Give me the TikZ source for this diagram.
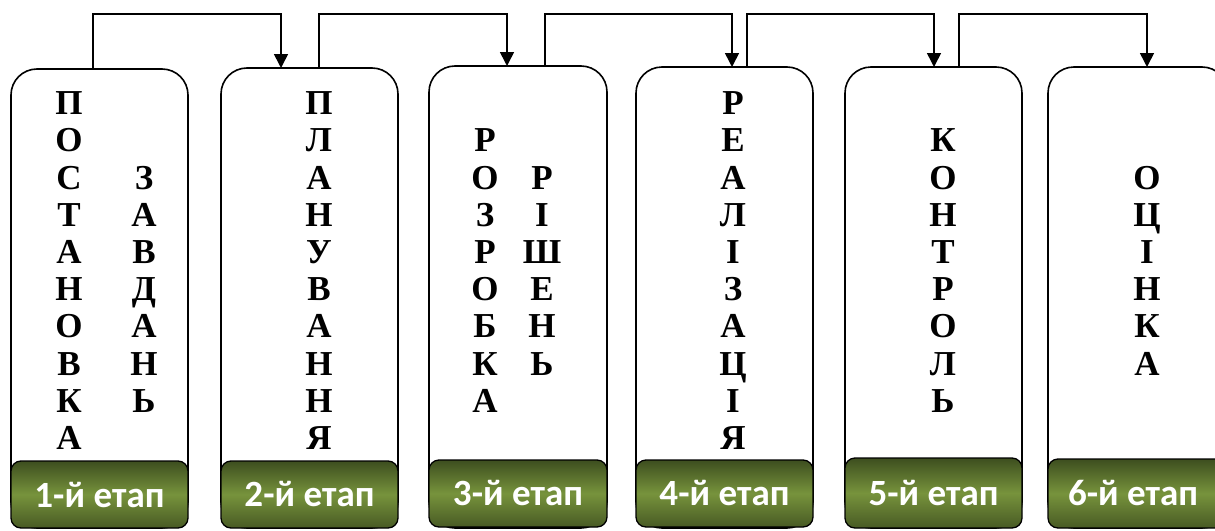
\documentclass[tikz,border=0pt]{standalone}
\usepackage{fontspec}
\newfontfamily\letterfont{Liberation Serif}[BoldFont={Liberation Serif Bold}]
\newfontfamily\tabfont{Carlito}
\usetikzlibrary{arrows.meta,calc}
\definecolor{olivedark}{HTML}{3D4E1F}
\definecolor{olivemid}{HTML}{77933C}
\definecolor{olivelow}{HTML}{485A24}
% one letter per row, rows 37.2pt apart
\newcommand{\column}[1]{{\letterfont\bfseries\fontsize{35}{37.2}\selectfont
  \begin{tabular}{@{}c@{}}#1\end{tabular}}}

\begin{document}
\begin{tikzpicture}[x=1pt,y=-1pt,
  stage/.style={draw, line width=1.6pt, rounded corners=26pt, minimum width=177pt,
    inner sep=0pt, outer sep=0pt, anchor=north west},
  tab/.style={draw, line width=1.3pt, rounded corners=10pt,
    top color=olivedark, bottom color=olivelow, middle color=olivemid,
    minimum width=177pt, minimum height=67pt, inner sep=0pt, outer sep=0pt,
    anchor=north west, text=white, font=\tabfont\bfseries\fontsize{37}{40}\selectfont},
  word/.style={inner sep=0pt},
  arrowlink/.style={line width=1.6pt, -{Triangle[length=14pt,width=14pt]}}]

\useasboundingbox (0,0) rectangle (1215,530);
\clip (0,0) rectangle (1215,530);

% stage frames
\node[stage, minimum height=459pt] (s1) at (11,69) {};
\node[stage, minimum height=460pt] (s2) at (221,68) {};
\node[stage, minimum height=462pt, minimum width=178pt] (s3) at (429,66) {};
\node[stage, minimum height=461pt] (s4) at (636,67) {};
\node[stage, minimum height=461pt] (s5) at (845,67) {};
\node[stage, minimum height=461pt, minimum width=180pt] (s6) at (1048,67) {};

% vertical words
\node[word] (w1a) at (69,274.6)  {\column{П\\О\\С\\Т\\А\\Н\\О\\В\\К\\А}};
\node[word] (w1b) at (144,293.2) {\column{З\\А\\В\\Д\\А\\Н\\Ь}};
\node[word] (w2)  at (319,274.6) {\column{П\\Л\\А\\Н\\У\\В\\А\\Н\\Н\\Я}};
\node[word] (w3a) at (485,274.6) {\column{Р\\О\\З\\Р\\О\\Б\\К\\А}};
\node[word] (w3b) at (542,274.6) {\column{Р\\І\\Ш\\Е\\Н\\Ь}};
\node[word] (w4)  at (733,274.6) {\column{Р\\Е\\А\\Л\\І\\З\\А\\Ц\\І\\Я}};
\node[word] (w5)  at (943,274.6) {\column{К\\О\\Н\\Т\\Р\\О\\Л\\Ь}};
\node[word] (w6)  at (1147,274.6) {\column{О\\Ц\\І\\Н\\К\\А}};

% stage labels
\node[tab] (t1) at (11,461)  {\raisebox{-2pt}{1-й етап}};
\node[tab] (t2) at (221,461) {\raisebox{-3pt}{2-й етап}};
\node[tab, minimum width=178pt] (t3) at (429,460) {\raisebox{-1pt}{3-й етап}};
\node[tab] (t4) at (636,460) {\raisebox{-2pt}{4-й етап}};
\node[tab, minimum height=70pt] (t5) at (845,458) {5-й етап};
\node[tab, minimum height=69pt, minimum width=180pt] (t6) at (1048,459) {\hspace*{-10pt}\raisebox{-2pt}{6-й етап}};

% transitions between stages
\coordinate (top) at (0,14);
\draw[arrowlink] ([xshift=-6.5pt]s1.north) -- ([xshift=-6.5pt]s1.north |- top)
  -| ([xshift=-28.5pt]s2.north);
\draw[arrowlink] ([xshift=9.5pt]s2.north) -- ([xshift=9.5pt]s2.north |- top)
  -| ([xshift=-11pt]s3.north);
\draw[arrowlink] ([xshift=27pt]s3.north) -- ([xshift=27pt]s3.north |- top)
  -| ([xshift=7.5pt]s4.north);
\draw[arrowlink] ([xshift=22.5pt]s4.north) -- ([xshift=22.5pt]s4.north |- top)
  -| ([xshift=0.5pt]s5.north);
\draw[arrowlink] ([xshift=25.5pt]s5.north) -- ([xshift=25.5pt]s5.north |- top)
  -| ([xshift=9pt]s6.north);
\end{tikzpicture}
\end{document}
